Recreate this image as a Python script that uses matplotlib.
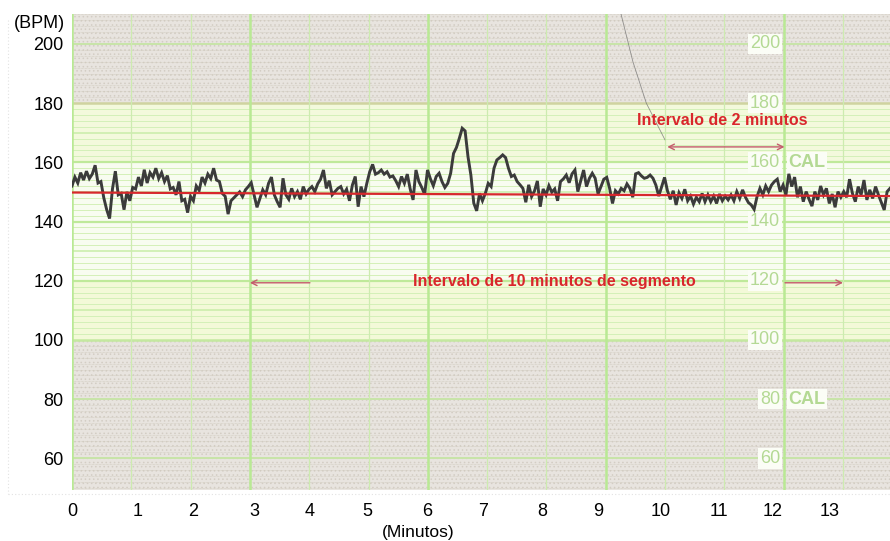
import numpy as np
import matplotlib
matplotlib.use("Agg")
import matplotlib.pyplot as plt
from matplotlib.lines import Line2D

plt.rcParams['font.family'] = ['Liberation Sans', 'DejaVu Sans']
plt.rcParams['hatch.linewidth'] = 0.6

# ---------------------------------------------------------------
# data
# ---------------------------------------------------------------
minute_labels = [str(m) for m in range(0, 14)]
# where the printed minute labels sit (they drift a little against the paper)
minute_label_pos = [0, 1.13, 2.07, 3.12, 4.08, 5.06, 6.09, 7.05, 8.06, 9.02, 10.09, 11.1,
                    12.02, 13.0]
bpm_ticks = [60, 80, 100, 120, 140, 160, 180, 200]
paper_labels = ['60', '80', '100', '120', '140', '160', '180', '200']
cal_rows = [80, 160]

# fetal heart rate trace (bpm), sampled evenly from 0 to T_END minutes
fhr_seg1 = [152, 155, 153, 156.5, 154, 157, 154.5, 156, 159, 153, 153.5, 148, 144, 141,
            151, 157, 149, 149.5, 144, 150, 147, 151.5, 151, 155, 152, 157.5, 153, 156.5,
            155, 158, 154.5, 156.5, 153.5, 155.5, 151, 151.5, 149, 153.5, 147, 147.5, 143,
            148.5, 147, 152, 150.5, 155, 153, 156, 154.5, 158, 154, 153.5, 149.5, 148.5,
            142.5, 147, 148]
fhr_seg2 = [149, 150, 148.4, 150.7, 151.8, 153.1, 149, 144.8, 147.8, 150.7, 149, 152.9,
            155, 149, 146.7, 144.8, 154.6, 149, 147.5, 151.2, 148.4, 150.1, 147.5, 151.8,
            149.3, 150.9, 151.8, 150.1, 152.7, 154.3, 157.4, 151.2, 153.8, 149, 150.1,
            151.2, 151.8, 149.3, 150.9, 147, 152.3, 155.2, 145, 151.8, 148.4, 152.9, 156.8,
            159.3, 156, 156.5, 157.4, 156, 156.8, 155, 155.4, 153.8, 151.8]
fhr_seg3 = [155.2, 152.9, 156, 151, 147.3, 157.4, 153.5, 151.5, 149.2, 157.4, 154.4,
            152.1, 155.2, 156.3, 153.5, 151.5, 152.9, 156.3, 163, 165, 168.1, 171.5, 170.6,
            161.9, 155.7, 146.2, 143.6, 149.5, 147, 149.5, 152.9, 151.8, 158, 160.8, 161.6,
            162.5, 161.6, 158, 155.2, 155.7, 153.5, 152.4, 151.2, 146.5, 152.4, 148.4,
            150.3, 153.7, 145, 151, 149, 152.1, 149.9, 151, 147, 153.5, 154.4]
fhr_seg4 = [155.7, 153.1, 156.1, 157.4, 150.1, 153.8, 157.4, 151.8, 154.6, 156.3, 154.6,
            149.3, 151.8, 154.3, 154.9, 151.2, 146.1, 150.4, 149.3, 151.2, 150.4, 152.7,
            151.2, 148.2, 156.1, 156.5, 155.4, 154.6, 154.9, 155.7, 154.6, 152.3, 148.6,
            151.8, 154.9, 150.4, 147.5, 150.4, 145.6, 149.7, 147.8, 150.9, 147, 148.6,
            145.9, 148.2, 146.7, 149.5, 146.7, 149, 146.7, 148.6, 146.1, 149.3, 147, 148.6,
            147.3]
fhr_seg5 = [149, 147, 150.1, 147.8, 150.7, 148.2, 146.4, 145.6, 144.1, 148.4, 151.2, 149,
            152, 150.1, 152.3, 153.5, 154.3, 150.1, 152.3, 149, 156.1, 151.8, 155, 148.2,
            151.8, 146.7, 150.1, 147.5, 145.2, 150.1, 147.3, 152, 149, 151.2, 146.1, 149.3,
            144.8, 150.1, 148.2, 150.1, 148.2, 154.3, 149.5, 146.7, 151.8, 149, 154, 147.3,
            150.7, 147.8, 151.8, 149, 146.4, 143.9, 150.1, 151.2]
fhr = fhr_seg1 + fhr_seg2 + fhr_seg3 + fhr_seg4 + fhr_seg5
T_END = 14.03

# red baseline, start and end level
baseline_x = [0, T_END]
baseline_bpm = [149.8, 148.6]

# pen scratch on the scan
scratch_x = [9.41, 9.62, 9.85, 10.17]
scratch_y = [210.6, 194.0, 180.0, 167.6]

# paper squares are a bit wider than the printed minute ticks
PAPER_STEP = 1.0172

# ---------------------------------------------------------------
# figure
# ---------------------------------------------------------------
fig = plt.figure(figsize=(8.9, 5.41), dpi=100)
ax = fig.add_axes([72 / 890, 51 / 541, 818 / 890, 476 / 541])
ax.set_xlim(0, T_END)
ax.set_ylim(49.3, 210.1)

grey_bg = '#e8e4df'
grey_dot = '#d3cdc4'
ax.axhspan(180, 215, facecolor=grey_bg, edgecolor=grey_dot, hatch='....', lw=0, zorder=0)
ax.axhspan(40, 100, facecolor=grey_bg, edgecolor=grey_dot, hatch='....', lw=0, zorder=0)
ax.axhspan(120, 160, facecolor='#f8fcf0', lw=0, zorder=0)
ax.axhspan(160, 180, facecolor='#f3f9dc', lw=0, zorder=0)
ax.axhspan(100, 120, facecolor='#f3f9d8', lw=0, zorder=0)

# horizontal paper lines
for b in range(50, 211, 2):
    if 100 < b < 180:
        if b % 20 == 0:
            ax.axhline(b, color='#bfe99a', lw=1.6, zorder=1)
        elif b % 10 == 0:
            ax.axhline(b, color='#c9eda8', lw=1.1, zorder=1)
        else:
            ax.axhline(b, color='#d4f0b8', lw=0.7, zorder=1)
    elif b in (100, 180):
        continue
    else:
        if b % 20 == 0:
            ax.axhline(b, color='#c8e4a8', lw=1.4, zorder=1)
        else:
            ax.axhline(b, color='#cfcabc', lw=0.5, ls=(0, (1, 1)), zorder=1)
ax.axhline(180, color='#cfd3a0', lw=1.8, zorder=1)
ax.axhline(100, color='#c4e8a0', lw=1.8, zorder=1)

# vertical paper lines
for k in range(14):
    xv = k * PAPER_STEP
    if k % 3 == 0:
        ax.axvline(xv, color='#b9e994', lw=1.8, zorder=1)
    else:
        ax.axvline(xv, color='#cdebb0', lw=0.9, zorder=1)

# printed scale on the paper
for lab, v in zip(paper_labels, bpm_ticks):
    ax.text(12 * PAPER_STEP - 0.06, v, lab, ha='right', va='center', fontsize=13,
            color='#b4d994', zorder=2,
            bbox=dict(boxstyle='square,pad=0.1', fc='#fbfdf6', ec='none'))
for v in cal_rows:
    ax.text(12 * PAPER_STEP + 0.08, v, 'CAL', ha='left', va='center', fontsize=13,
            fontweight='bold', color='#b4d994', zorder=2,
            bbox=dict(boxstyle='square,pad=0.1', fc='#fbfdf6', ec='none'))

ax.plot(scratch_x, scratch_y, color='#6a6a6a', lw=0.6, alpha=0.7, zorder=2)

# trace and baseline
t = np.linspace(0, T_END, len(fhr))
ax.plot(t, fhr, color='#3b3b3b', lw=2.1, zorder=4, solid_joinstyle='miter')
ax.plot(baseline_x, baseline_bpm, color='#d7282c', lw=1.6, zorder=5)

# annotations
red = '#d9262b'
arrow_c = '#c45c6c'
ax.text(11.15, 174.0, 'Intervalo de 2 minutos', ha='center', va='center',
        fontsize=11.5, fontweight='bold', color=red, zorder=6)
ax.annotate('', xy=(10.21, 165.2), xytext=(12.22, 165.2),
            arrowprops=dict(arrowstyle='<->', color=arrow_c, lw=1.0,
                            shrinkA=0, shrinkB=0), zorder=6)
ax.text(8.27, 119.6, 'Intervalo de 10 minutos de segmento', ha='center', va='center',
        fontsize=11.5, fontweight='bold', color=red, zorder=6)
ax.annotate('', xy=(3 * PAPER_STEP, 119.3), xytext=(4.08, 119.3),
            arrowprops=dict(arrowstyle='->', color=arrow_c, lw=1.0,
                            shrinkA=0, shrinkB=0), zorder=6)
ax.annotate('', xy=(13 * PAPER_STEP, 119.3), xytext=(12.23, 119.3),
            arrowprops=dict(arrowstyle='->', color=arrow_c, lw=1.0,
                            shrinkA=0, shrinkB=0), zorder=6)

# axes text
ax.set_xticks(minute_label_pos)
ax.set_xticklabels(minute_labels, fontsize=13)
ax.set_yticks(bpm_ticks)
ax.set_yticklabels([str(b) for b in bpm_ticks], fontsize=13)
ax.tick_params(axis='x', length=0, pad=9)
ax.tick_params(axis='y', length=0, pad=6)
for s in ax.spines.values():
    s.set_visible(False)

fig.text(14 / 890, 1 - 24 / 541, '(BPM)', ha='left', va='center', fontsize=13)
fig.text(418 / 890, 1 - 532 / 541, '(Minutos)', ha='center', va='center', fontsize=12.5)

# faint scan border
fig.add_artist(Line2D([8 / 890, 8 / 890], [1 - 20 / 541, 1 - 494 / 541], color='#e2e2e2',
                      lw=0.8, ls=(0, (1, 2))))
fig.add_artist(Line2D([8 / 890, 1], [1 - 494 / 541, 1 - 494 / 541], color='#e2e2e2',
                      lw=0.8, ls=(0, (1, 2))))

fig.savefig('out.png', dpi=100)
